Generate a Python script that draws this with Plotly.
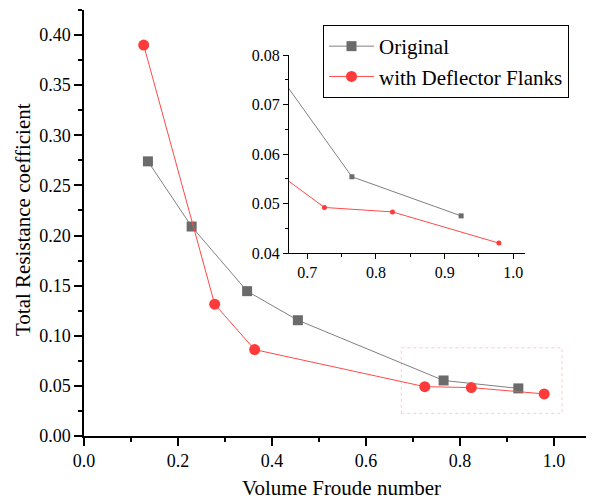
import plotly.graph_objects as go

# ---- data ----
fr_original = [0.136, 0.229, 0.347, 0.455, 0.765, 0.924]
ct_original = [0.274, 0.209, 0.1445, 0.1155, 0.0554, 0.0475]
fr_deflector = [0.127, 0.278, 0.363, 0.725, 0.824, 0.979]
ct_deflector = [0.390, 0.1315, 0.0862, 0.0492, 0.0483, 0.0420]

name_original = "Original"
name_deflector = "with Deflector Flanks"
x_title = "Volume Froude number"
y_title = "Total Resistance coefficient"

# zoom box (as drawn in the original figure) in data coords
zoom_box_x = [0.675, 1.017]
zoom_box_y = [0.0226, 0.088]

FONT = "Liberation Serif"
GRAY_M = "#6b6b6b"
GRAY_L = "#808080"
RED_M = "#ff3a3a"
RED_L = "#ff4a4a"

# page body has an 8px default margin -> figure drawn at (8, 8)
W, H = 586, 493
L, T, B = 76, 2, 65
PW, PH = W - L, H - T - B

fig = go.Figure()

fig.add_trace(go.Scatter(x=fr_original, y=ct_original, name=name_original,
                         mode="lines+markers",
                         line=dict(color=GRAY_L, width=1),
                         marker=dict(symbol="square", size=10, color=GRAY_M),
                         xaxis="x", yaxis="y"))
fig.add_trace(go.Scatter(x=fr_deflector, y=ct_deflector, name=name_deflector,
                         mode="lines+markers",
                         line=dict(color=RED_L, width=1),
                         marker=dict(symbol="circle", size=11, color=RED_M),
                         xaxis="x", yaxis="y"))
fig.add_trace(go.Scatter(x=fr_original, y=ct_original, showlegend=False,
                         mode="lines+markers", cliponaxis=True,
                         line=dict(color=GRAY_L, width=1),
                         marker=dict(symbol="square", size=5, color=GRAY_M),
                         xaxis="x2", yaxis="y2"))
fig.add_trace(go.Scatter(x=fr_deflector, y=ct_deflector, showlegend=False,
                         mode="lines+markers", cliponaxis=True,
                         line=dict(color=RED_L, width=1),
                         marker=dict(symbol="circle", size=5, color=RED_M),
                         xaxis="x2", yaxis="y2"))

fig.add_shape(type="rect", xref="x", yref="y",
              x0=zoom_box_x[0], x1=zoom_box_x[1],
              y0=zoom_box_y[0], y1=zoom_box_y[1],
              line=dict(color="#ffc8c8", width=1, dash="dot"),
              layer="below")

axis_common = dict(showgrid=False, zeroline=False, showline=True, automargin=False,
                   linecolor="black", ticks="outside", tickcolor="black")

fig.add_annotation(text=x_title, xref="paper", yref="paper", x=(341 - 84) / PW,
                   y=-(488 - 436) / PH, xanchor="center", yanchor="middle",
                   showarrow=False, font=dict(size=21, family=FONT, color="black"))
fig.add_annotation(text=y_title, xref="paper", yref="paper", x=-(84 - 23) / PW,
                   y=(436 - 220) / PH, xanchor="center", yanchor="middle",
                   textangle=-90, showarrow=False,
                   font=dict(size=21, family=FONT, color="black"))

fig.update_layout(
    width=W, height=H,
    margin=dict(l=L, r=0, t=T, b=B, pad=0, autoexpand=False),
    paper_bgcolor="white", plot_bgcolor="white",
    font=dict(family=FONT, size=18, color="black"),
    xaxis=dict(**axis_common, range=[0, 1.085], domain=[0, 1],
               dtick=0.2, tick0=0, tickformat=".1f",
               ticklen=8, tickwidth=1.5, linewidth=1.5,
               tickfont=dict(family=FONT, size=18, color="black"),
               minor=dict(dtick=0.1, ticks="outside", ticklen=4, tickcolor="black", tickwidth=1.5),
               anchor="y"),
    yaxis=dict(**axis_common, range=[0, 0.425], domain=[0, 1],
               dtick=0.05, tick0=0, tickformat=".2f",
               ticklen=8, tickwidth=1.5, linewidth=1.5,
               tickfont=dict(family=FONT, size=18, color="black"),
               minor=dict(dtick=0.025, ticks="outside", ticklen=4, tickcolor="black", tickwidth=1.5),
               anchor="x"),
    xaxis2=dict(**axis_common, range=[0.6734, 1.017],
                domain=[(289 - 84) / PW, (525 - 84) / PW],
                dtick=0.1, tick0=0, tickformat=".1f",
                ticklen=5, tickwidth=1, linewidth=1.2,
                minor=dict(dtick=0.05, ticks="outside", ticklen=3, tickcolor="black", tickwidth=1),
                tickfont=dict(size=16, family=FONT, color="black"), anchor="y2"),
    yaxis2=dict(**axis_common, range=[0.04, 0.08],
                domain=[(436 - 253) / PH, (436 - 55) / PH],
                dtick=0.01, tick0=0, tickformat=".2f",
                ticklen=5, tickwidth=1, linewidth=1.2,
                minor=dict(dtick=0.005, ticks="outside", ticklen=3, tickcolor="black", tickwidth=1),
                tickfont=dict(size=16, family=FONT, color="black"), anchor="x2"),
    legend=dict(x=(323 - 84) / PW, y=(436 - 25) / PH, xanchor="left", yanchor="top",
                bgcolor="white", bordercolor="black", borderwidth=1,
                font=dict(size=21, family=FONT, color="black"), itemwidth=45, tracegroupgap=0),
)

fig.write_html("out.html")
